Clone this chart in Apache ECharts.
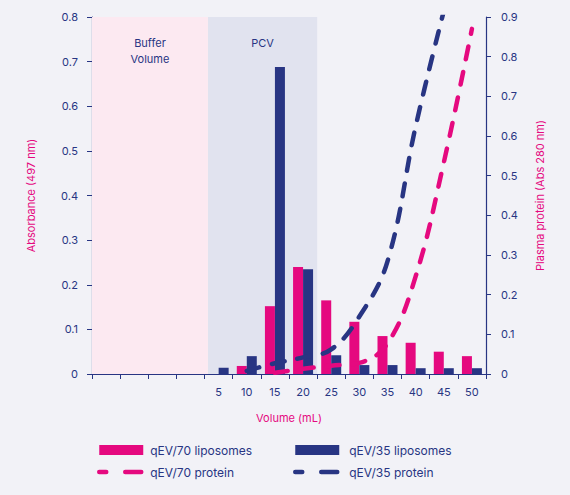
<!DOCTYPE html>
<html>
<head>
<meta charset="utf-8">
<script src="https://cdn.jsdelivr.net/npm/echarts@6/dist/echarts.min.js"></script>
<style>
  html, body { margin: 0; padding: 0; background: #f2f2f7; }
  #chart { width: 570px; height: 495px; }
</style>
</head>
<body>
<div id="chart"></div>
<script>
// volume fractions (first four slots are the buffer volume, unlabelled)
const volumes = ['', '', '', '', '5', '10', '15', '20', '25', '30', '35', '40', '45', '50'];

// absorbance at 497 nm (left axis)
const qev70Liposomes = [null, null, null, null, 0, 0.018, 0.152, 0.240, 0.165, 0.117, 0.085, 0.070, 0.050, 0.040];
const qev35Liposomes = [null, null, null, null, 0.014, 0.040, 0.688, 0.235, 0.042, 0.020, 0.020, 0.013, 0.013, 0.013];

// plasma protein, abs 280 nm (right axis)
const qev70Protein = [null, null, null, null, null, null, 0.003, 0.013, 0.021, 0.028, 0.077, 0.246, 0.533, 0.870];
const qev35Protein = [null, null, null, null, null, 0.008, 0.027, 0.042, 0.062, 0.145, 0.284, 0.624, 0.915, null];

// shaded regions, in fraction-slot units along the x axis
const bufferRange = [0, 4.12];
const pcvRange = [4.12, 8];

const PINK = '#e5097f';
const NAVY = '#283583';
const FONT = 'Inter';

const chart = echarts.init(document.getElementById('chart'), null, { renderer: 'svg' });

const dash = { type: [13, 13], width: 4.5, cap: 'round' };
// legend keys: no circle marker, short + long dash like the original key
const noMarker = { color: 'rgba(0,0,0,0)', borderColor: 'rgba(0,0,0,0)', borderWidth: 0 };
const keyDash = { width: 4.5, type: [7, 19, 16, 10], cap: 'round' };

chart.setOption({
  backgroundColor: '#f2f2f7',
  textStyle: { fontFamily: FONT, color: NAVY },
  animation: false,
  grid: { left: 92, right: 84, top: 17, bottom: 121 },
  legend: [
    {
      left: 92, top: 439, orient: 'vertical', itemWidth: 44, itemHeight: 10, itemGap: 10,
      data: [
        { name: 'qEV/70 liposomes', icon: 'rect' },
        { name: 'qEV/70 protein', itemStyle: noMarker, lineStyle: keyDash }
      ],
      textStyle: { fontFamily: FONT, fontSize: 12, color: NAVY, padding: [0, 0, 0, 2] }
    },
    {
      left: 288, top: 439, orient: 'vertical', itemWidth: 44, itemHeight: 10, itemGap: 10,
      data: [
        { name: 'qEV/35 liposomes', icon: 'rect' },
        { name: 'qEV/35 protein', itemStyle: noMarker, lineStyle: keyDash }
      ],
      textStyle: { fontFamily: FONT, fontSize: 12, color: NAVY, padding: [0, 0, 0, 5] }
    }
  ],
  xAxis: [
    {
      type: 'category',
      data: volumes,
      name: 'Volume (mL)',
      nameLocation: 'middle',
      nameGap: 38,
      nameTextStyle: { color: PINK, fontSize: 11, fontFamily: FONT },
      axisLine: { lineStyle: { color: NAVY, width: 1.2 } },
      axisTick: { show: true, length: 5, interval: 0, lineStyle: { color: NAVY } },
      axisLabel: { interval: 0, margin: 12, fontSize: 11, color: NAVY, fontFamily: FONT }
    },
    { type: 'value', min: 0, max: volumes.length, show: false }
  ],
  yAxis: [
    {
      type: 'value', min: 0, max: 0.8, interval: 0.1,
      name: 'Absorbance (497 nm)',
      nameLocation: 'middle',
      nameGap: 56,
      nameTextStyle: { color: PINK, fontSize: 11, fontFamily: FONT },
      axisLine: { show: true, lineStyle: { color: NAVY, width: 1.2 } },
      axisTick: { show: true, length: 5, lineStyle: { color: NAVY } },
      axisLabel: { margin: 14, fontSize: 11, color: NAVY, fontFamily: FONT },
      splitLine: { show: false }
    },
    {
      type: 'value', min: 0, max: 0.9, interval: 0.1, position: 'right',
      name: 'Plasma protein (Abs 280 nm)',
      nameLocation: 'middle',
      nameGap: 48,
      nameRotate: 90,
      nameTextStyle: { color: PINK, fontSize: 11, fontFamily: FONT },
      axisLine: { show: true, lineStyle: { color: NAVY, width: 1.2 } },
      axisTick: { show: true, length: 5, lineStyle: { color: NAVY } },
      axisLabel: { margin: 15, fontSize: 11, color: NAVY, fontFamily: FONT },
      splitLine: { show: false }
    }
  ],
  series: [
    {
      name: 'regions',
      type: 'scatter',
      xAxisIndex: 1,
      yAxisIndex: 0,
      data: [],
      silent: true,
      z: 0,
      markArea: {
        silent: true,
        label: {
          position: 'insideTop', distance: 18, color: NAVY,
          fontSize: 11, fontFamily: FONT, lineHeight: 16
        },
        data: [
          [{ xAxis: bufferRange[0], name: 'Buffer\nVolume', itemStyle: { color: '#fce9f1' } }, { xAxis: bufferRange[1] }],
          [{ xAxis: pcvRange[0], name: 'PCV', itemStyle: { color: '#e1e3ef' } }, { xAxis: pcvRange[1] }]
        ]
      }
    },
    {
      name: 'qEV/70 liposomes', type: 'bar', data: qev70Liposomes,
      barWidth: 10, barGap: '0%', itemStyle: { color: PINK }, z: 2
    },
    {
      name: 'qEV/35 liposomes', type: 'bar', data: qev35Liposomes,
      barWidth: 10, barGap: '0%', itemStyle: { color: NAVY }, z: 2
    },
    {
      name: 'qEV/70 protein', type: 'line', yAxisIndex: 1, data: qev70Protein,
      smooth: 0.4, symbol: 'none', lineStyle: Object.assign({ color: PINK }, dash),
      itemStyle: { color: PINK }, z: 3
    },
    {
      name: 'qEV/35 protein', type: 'line', yAxisIndex: 1, data: qev35Protein,
      smooth: 0.4, symbol: 'none', lineStyle: Object.assign({ color: NAVY }, dash),
      itemStyle: { color: NAVY }, z: 3
    }
  ]
});
</script>
</body>
</html>
